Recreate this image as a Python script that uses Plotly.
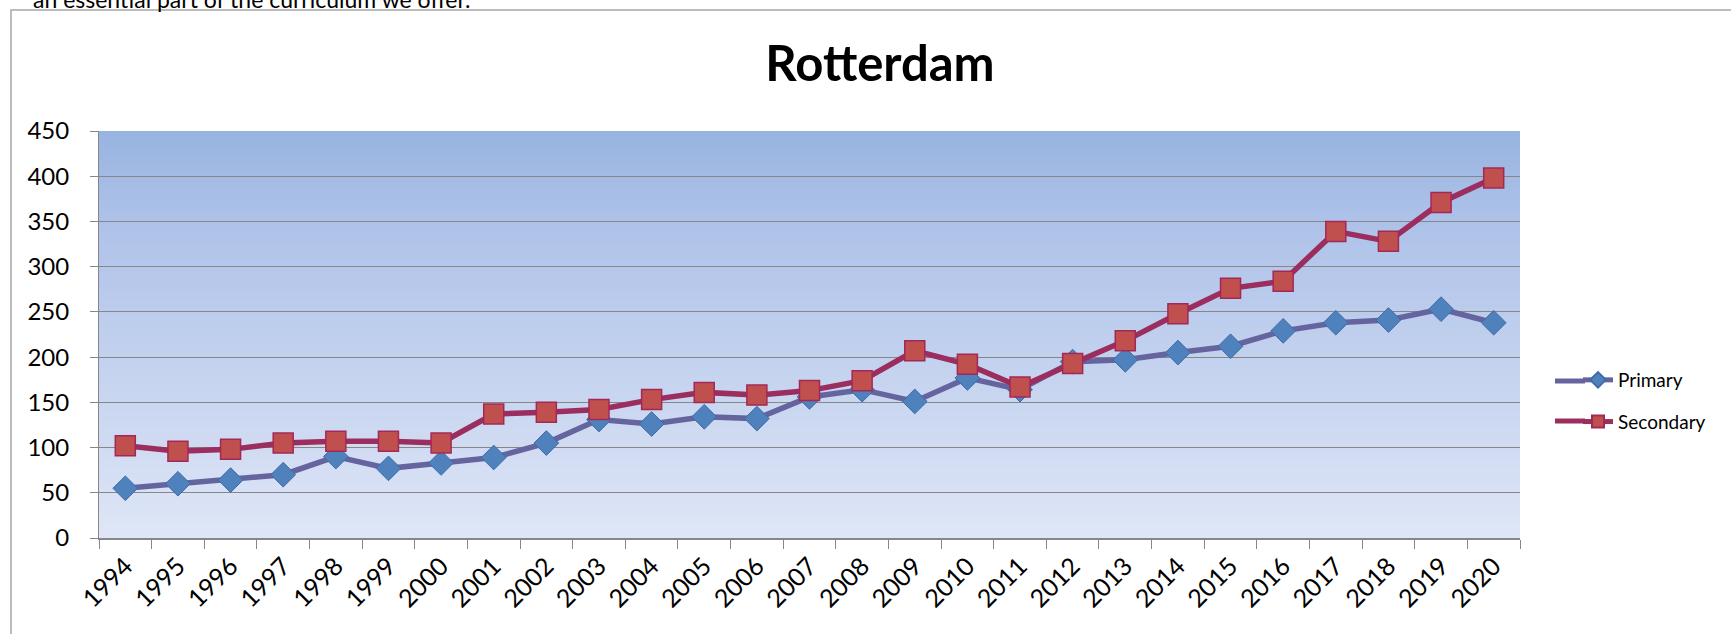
import base64
import struct
import zlib

import plotly.graph_objects as go

years = [str(y) for y in range(1994, 2021)]
primary = [55, 60, 64, 70, 90, 77, 83, 89, 105, 131, 126, 134, 132, 156, 164,
           151, 177, 164, 195, 197, 205, 212, 229, 238, 241, 253, 238]
secondary = [102, 96, 98, 105, 107, 107, 105, 137, 139, 142, 153, 161, 158, 163,
             174, 207, 192, 167, 193, 218, 248, 276, 284, 339, 328, 371, 398]
y_ticks = list(range(0, 451, 50))

W, H = 1731, 634
L, R, T, B = 99, 1520, 131, 538
pw, ph = R - L, B - T
FONT = "Lato, 'Open Sans', sans-serif"

# ---- smooth vertical gradient for the plot background (tiny PNG) ----
stops = [(0.0, (152, 180, 224)), (0.22, (174, 194, 233)),
         (0.55, (194, 209, 238)), (1.0, (223, 230, 247))]  # top -> bottom


def col(f):
    for (f0, c0), (f1, c1) in zip(stops[:-1], stops[1:]):
        if f0 <= f <= f1:
            t = (f - f0) / (f1 - f0)
            return tuple(round(a + (b - a) * t) for a, b in zip(c0, c1))
    return stops[-1][1]


def png_gradient(n=256):
    raw = b"".join(b"\x00" + bytes(col(i / (n - 1))) for i in range(n))

    def chunk(tag, data):
        c = struct.pack(">I", len(data)) + tag + data
        return c + struct.pack(">I", zlib.crc32(tag + data) & 0xFFFFFFFF)

    png = b"\x89PNG\r\n\x1a\n"
    png += chunk(b"IHDR", struct.pack(">IIBBBBB", 1, n, 8, 2, 0, 0, 0))
    png += chunk(b"IDAT", zlib.compress(raw, 9))
    png += chunk(b"IEND", b"")
    return "data:image/png;base64," + base64.b64encode(png).decode()


fig = go.Figure()
fig.add_trace(go.Scatter(
    x=years, y=primary, name="Primary", mode="lines+markers", legendgroup="p",
    line=dict(color="#65649F", width=5.5),
    marker=dict(symbol="diamond", size=19, color="#4F81BD",
                line=dict(color="#3F6BA6", width=1)),
))
fig.add_trace(go.Scatter(
    x=years, y=secondary, name="Secondary", mode="lines+markers", legendgroup="s",
    line=dict(color="#9B2D5F", width=5.5),
    marker=dict(symbol="square", size=20, color="#C0504D",
                line=dict(color="#A3285A", width=1.5)),
))

shapes = [
    # outer chart frame
    dict(type="rect", xref="paper", yref="paper",
         x0=(11 - L) / pw, x1=(W + 20 - L) / pw,
         y0=(B - (H + 20)) / ph, y1=(B - 10) / ph,
         line=dict(color="#A6A6A6", width=1.5), fillcolor="rgba(0,0,0,0)",
         layer="below"),
]
# longer legend lines (Excel-style legend keys)
for yy, c in ((381, "#65649F"), (421, "#9B2D5F")):
    shapes.append(dict(type="line", xref="paper", yref="paper",
                       x0=(1555 - L) / pw, x1=(1585 - L) / pw,
                       y0=(B - yy) / ph, y1=(B - yy) / ph,
                       line=dict(color=c, width=5)))

fig.update_layout(
    width=W, height=H,
    margin=dict(l=L, r=W - R, t=T, b=H - B, autoexpand=False),
    paper_bgcolor="white", plot_bgcolor="rgba(0,0,0,0)",
    font=dict(family=FONT, color="black"),
    title=dict(text="Rotterdam", x=880 / W, xref="container", xanchor="center",
               y=1 - 64 / H, yref="container", yanchor="middle",
               font=dict(family=FONT, size=49, weight=700, color="black")),
    shapes=shapes,
    images=[dict(source=png_gradient(), xref="x domain", yref="y domain",
                 x=0, y=1, sizex=1, sizey=1, xanchor="left", yanchor="top",
                 sizing="stretch", layer="below")],
    showlegend=True,
    legend=dict(x=(1578 - L) / pw, xanchor="left", y=(B - 401) / ph, yanchor="middle",
                font=dict(family=FONT, size=19, color="black"),
                tracegroupgap=14, itemsizing="constant", bgcolor="rgba(0,0,0,0)"),
    annotations=[dict(text="an essential part of the curriculum we offer.",
                      xref="paper", yref="paper", x=(31 - L) / pw, y=(B - 15) / ph,
                      xanchor="left", yanchor="bottom", showarrow=False,
                      font=dict(family=FONT, size=23, color="black"))],
)

fig.update_xaxes(
    type="category", range=[-0.5, len(years) - 0.5],
    showgrid=False, showline=True, linecolor="#868686", linewidth=1.5,
    ticks="outside", tickson="boundaries", ticklen=9, tickcolor="#868686",
    tickangle=-45, tickfont=dict(family=FONT, size=25, color="black"),
    ticklabelstandoff=2,
)
fig.update_yaxes(
    range=[0, 450], tickvals=y_ticks, ticktext=[str(v) for v in y_ticks],
    showgrid=True, gridcolor="#878787", gridwidth=1,
    showline=True, linecolor="#868686", linewidth=1,
    ticks="outside", ticklen=8, tickcolor="#868686",
    tickfont=dict(family=FONT, size=24, color="black"),
    ticklabelstandoff=16, zeroline=False,
)

fig.write_html("out.html",
               config={"displayModeBar": False},
               post_script="document.body.style.margin='0';"
                           "document.body.style.overflow='hidden';")
